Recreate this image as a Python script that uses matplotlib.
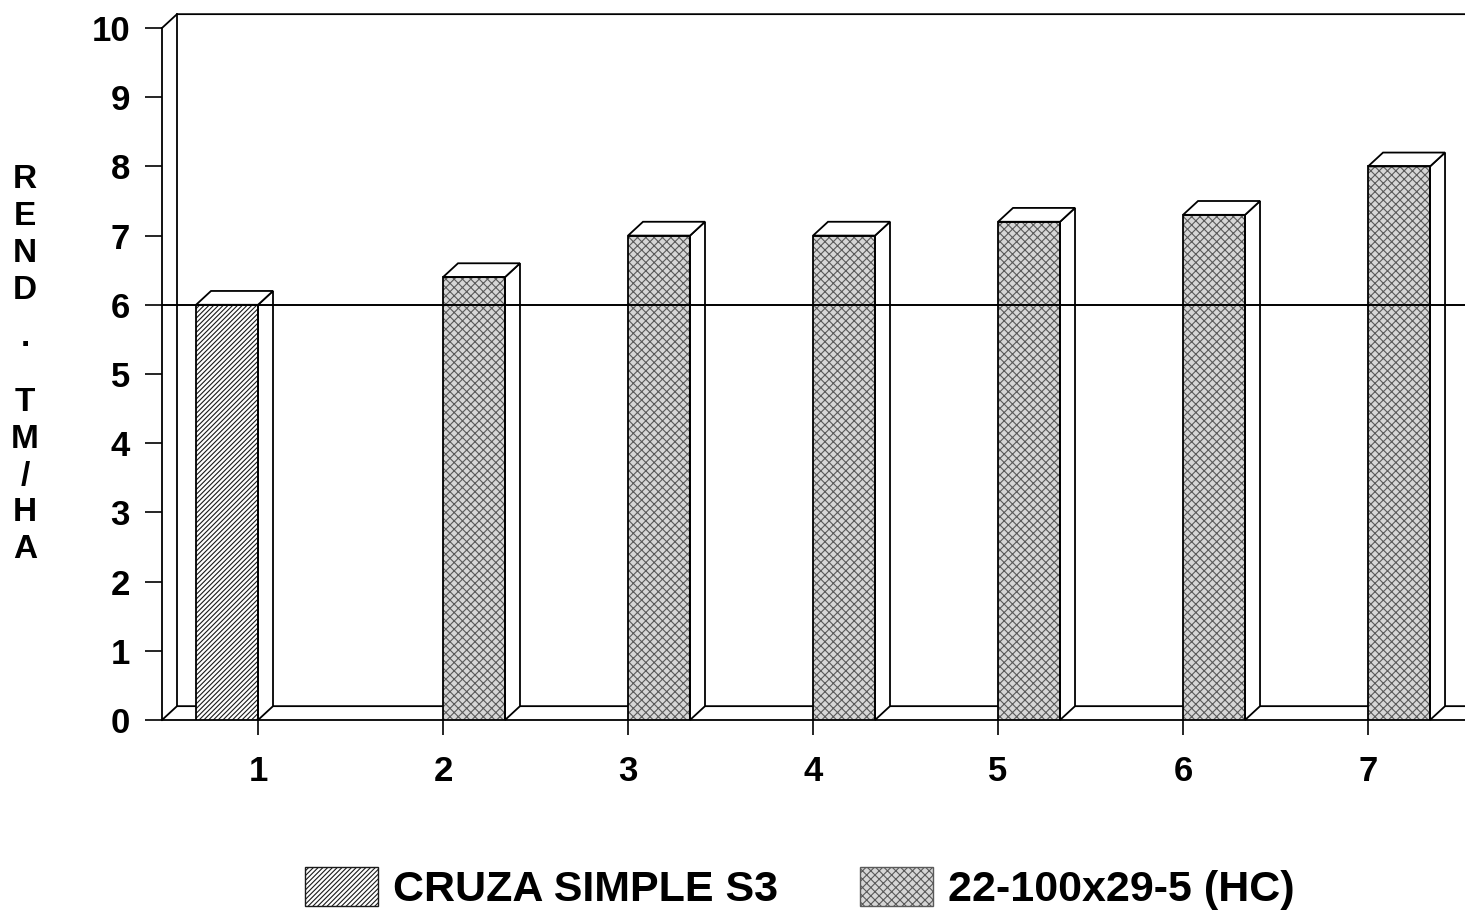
import matplotlib
matplotlib.use('Agg')
import matplotlib.pyplot as plt
from matplotlib.patches import Polygon, Patch

# data
cruza_pos = [1]
cruza_vals = [6.0]
hc_pos = [2, 3, 4, 5, 6, 7]
hc_vals = [6.4, 7.0, 7.0, 7.2, 7.3, 8.0]
tick_pos = [1, 2, 3, 4, 5, 6, 7]
tick_labels = ['1', '2', '3', '4', '5', '6', '7']
y_ticks = [0, 1, 2, 3, 4, 5, 6, 7, 8, 9, 10]
series_names = ['CRUZA SIMPLE S3', '22-100x29-5 (HC)']
ref_level = 6.0

plt.rcParams['font.family'] = ['Liberation Sans', 'DejaVu Sans']
plt.rcParams['hatch.linewidth'] = 0.8

W = 0.335          # bar width
DX, DY = 0.081, 0.2  # 3d depth offset in data units
XMIN, XMAX = 0.481, 7.524

fig = plt.figure(figsize=(14.65, 9.18), dpi=100)
ax = fig.add_axes([162 / 1465, 198 / 918, (1465 - 162) / 1465, 692 / 918])
ax.set_xlim(XMIN, XMAX)
ax.set_ylim(0, 10)


def bar3d(x0, h, face, hatch, hcol):
    # front face: texture then outline
    ax.bar(x0, h, width=W, align='edge', facecolor=face, edgecolor=hcol,
           hatch=hatch, linewidth=0, zorder=3)
    ax.bar(x0, h, width=W, align='edge', facecolor='none', edgecolor='black',
           linewidth=1.3, zorder=4)
    side = [(x0 + W, 0), (x0 + W + DX, DY), (x0 + W + DX, h + DY), (x0 + W, h)]
    top = [(x0, h), (x0 + DX, h + DY), (x0 + W + DX, h + DY), (x0 + W, h)]
    for pts in (side, top):
        ax.add_patch(Polygon(pts, closed=True, facecolor='white', edgecolor='black',
                             linewidth=1.3, zorder=3, clip_on=False))


# back wall and floor
ax.plot([XMIN, XMIN + DX, XMAX], [10, 10 + DY, 10 + DY], color='black', lw=1.3,
        clip_on=False, zorder=1)
ax.plot([XMIN + DX, XMIN + DX], [DY, 10 + DY], color='black', lw=1.3, clip_on=False, zorder=1)
ax.plot([XMIN, XMIN + DX, XMAX], [0, DY, DY], color='black', lw=1.3, clip_on=False, zorder=1)

for x, v in zip(cruza_pos, cruza_vals):
    bar3d(x - W, v, 'white', '///////', '#1a1a1a')
for x, v in zip(hc_pos, hc_vals):
    bar3d(x, v, '#d6d6d6', 'xxxx', '#5a5a5a')

ax.axhline(ref_level, color='black', lw=1.4, zorder=6)

for s in ['top', 'right']:
    ax.spines[s].set_visible(False)
ax.spines['left'].set_linewidth(1.3)
ax.spines['bottom'].set_linewidth(1.3)

ax.set_yticks(y_ticks)
ax.set_yticklabels([str(t) for t in y_ticks])
ax.set_xticks(tick_pos)
ax.set_xticklabels(tick_labels)
ax.tick_params(axis='y', length=12, width=1.2, pad=11, labelsize=25)
ax.tick_params(axis='x', length=11, width=1.2, pad=14, labelsize=25)
for lab in ax.get_xticklabels() + ax.get_yticklabels():
    lab.set_fontweight('bold')

# stacked y label
fig.text(25 / 1465, 1 - 235 / 918, 'R\nE\nN\nD', ha='center', va='center',
         fontsize=24, fontweight='bold', linespacing=1.24)
fig.text(25 / 1465, 1 - 338 / 918, '.', ha='center', va='center',
         fontsize=24, fontweight='bold')
fig.text(25 / 1465, 1 - 476 / 918, 'T\nM\n/\nH\nA', ha='center', va='center',
         fontsize=24, fontweight='bold', linespacing=1.24)

handles = [Patch(facecolor='white', edgecolor='#1a1a1a', hatch='///////'),
           Patch(facecolor='#d6d6d6', edgecolor='#5a5a5a', hatch='xxxx')]
fig.legend(handles, series_names, loc='center', bbox_to_anchor=(0.546, 0.032),
           ncol=2, frameon=False, prop={'size': 31, 'weight': 'bold'},
           handlelength=1.7, handleheight=1.0, handletextpad=0.35, columnspacing=1.9)

fig.savefig('out.png', dpi=100)
